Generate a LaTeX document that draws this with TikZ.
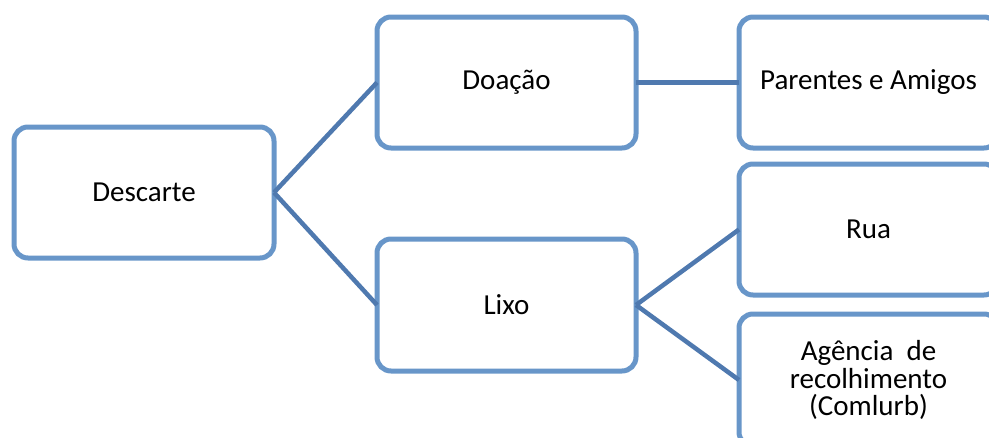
\documentclass[tikz,border=0pt]{standalone}
\usepackage{fontspec}
\setmainfont{Carlito}
\definecolor{boxblue}{RGB}{104,150,201}
\definecolor{lineblue}{RGB}{79,121,175}
\begin{document}
\begin{tikzpicture}[x=1pt,y=-1pt,
  box/.style={draw=boxblue, line width=5pt, fill=white, rounded corners=14pt,
    minimum width=259pt, minimum height=131pt, outer sep=0pt, inner sep=2pt,
    align=center, font=\fontsize{29}{27.5}\selectfont, text=black},
  conn/.style={draw=lineblue, line width=4.5pt}]
\useasboundingbox (0,0) rectangle (989,437);
\clip (0,0) rectangle (989,437);
\node[box, minimum width=260pt] (desc) at (144,192.5) {Descarte};
\node[box] (doa) at (506.5,82.5) {Doação};
\node[box, minimum height=132pt] (lixo) at (506.5,305) {Lixo};
\node[box] (par) at (868.5,82.5) {Parentes e Amigos};
\node[box] (rua) at (868.5,229.5) {Rua};
\node[box, minimum height=132pt] (agen) at (868.5,380) {Agência\ \ de\\recolhimento\\(Comlurb)};
\draw[conn] (desc.east) -- (doa.west);
\draw[conn] (desc.east) -- (lixo.west);
\draw[conn] (doa.east) -- (par.west);
\draw[conn] (lixo.east) -- (rua.west);
\draw[conn] (lixo.east) -- (agen.west);
\end{tikzpicture}
\end{document}
